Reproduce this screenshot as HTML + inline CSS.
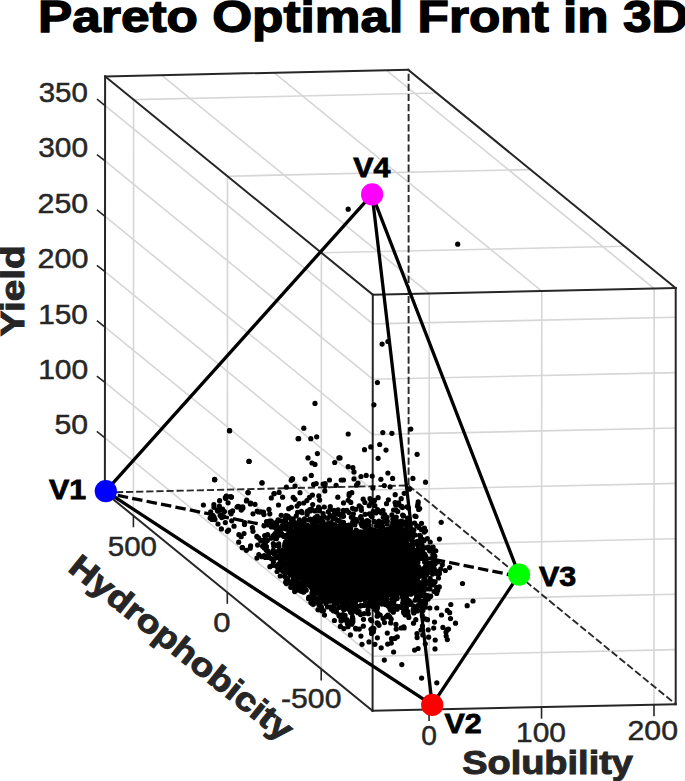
<!DOCTYPE html>
<html><head><meta charset="utf-8"><style>
html,body{margin:0;padding:0;background:#fff;}
body{width:685px;height:781px;overflow:hidden;}
svg{display:block;font-family:"Liberation Sans",sans-serif;}
</style></head><body>
<svg width="685" height="781" viewBox="0 0 685 781">
<rect width="685" height="781" fill="#fff"/>
<line x1="133.41" y1="515.75" x2="133.61" y2="99.65" stroke="#d6d6d6" stroke-width="1.6" />
<line x1="227.30" y1="592.32" x2="227.50" y2="176.22" stroke="#d6d6d6" stroke-width="1.6" />
<line x1="321.20" y1="668.89" x2="321.40" y2="252.79" stroke="#d6d6d6" stroke-width="1.6" />
<line x1="372.63" y1="656.18" x2="104.93" y2="437.88" stroke="#d6d6d6" stroke-width="1.6" />
<line x1="372.65" y1="600.79" x2="104.95" y2="382.49" stroke="#d6d6d6" stroke-width="1.6" />
<line x1="372.68" y1="545.40" x2="104.98" y2="327.10" stroke="#d6d6d6" stroke-width="1.6" />
<line x1="372.71" y1="490.01" x2="105.01" y2="271.71" stroke="#d6d6d6" stroke-width="1.6" />
<line x1="372.73" y1="434.62" x2="105.03" y2="216.32" stroke="#d6d6d6" stroke-width="1.6" />
<line x1="372.76" y1="379.23" x2="105.06" y2="160.93" stroke="#d6d6d6" stroke-width="1.6" />
<line x1="372.79" y1="323.84" x2="105.09" y2="105.54" stroke="#d6d6d6" stroke-width="1.6" />
<line x1="429.06" y1="709.57" x2="429.26" y2="293.47" stroke="#d6d6d6" stroke-width="1.6" />
<line x1="541.53" y1="707.12" x2="541.73" y2="291.02" stroke="#d6d6d6" stroke-width="1.6" />
<line x1="653.99" y1="704.67" x2="654.19" y2="288.57" stroke="#d6d6d6" stroke-width="1.6" />
<line x1="372.63" y1="656.18" x2="675.73" y2="649.58" stroke="#d6d6d6" stroke-width="1.6" />
<line x1="372.65" y1="600.79" x2="675.75" y2="594.19" stroke="#d6d6d6" stroke-width="1.6" />
<line x1="372.68" y1="545.40" x2="675.78" y2="538.80" stroke="#d6d6d6" stroke-width="1.6" />
<line x1="372.71" y1="490.01" x2="675.81" y2="483.41" stroke="#d6d6d6" stroke-width="1.6" />
<line x1="372.73" y1="434.62" x2="675.83" y2="428.02" stroke="#d6d6d6" stroke-width="1.6" />
<line x1="372.76" y1="379.23" x2="675.86" y2="372.63" stroke="#d6d6d6" stroke-width="1.6" />
<line x1="372.79" y1="323.84" x2="675.89" y2="317.24" stroke="#d6d6d6" stroke-width="1.6" />
<line x1="429.26" y1="293.47" x2="161.56" y2="75.17" stroke="#d6d6d6" stroke-width="1.6" />
<line x1="541.73" y1="291.02" x2="274.03" y2="72.72" stroke="#d6d6d6" stroke-width="1.6" />
<line x1="654.19" y1="288.57" x2="386.49" y2="70.27" stroke="#d6d6d6" stroke-width="1.6" />
<line x1="133.61" y1="99.65" x2="436.71" y2="93.05" stroke="#d6d6d6" stroke-width="1.6" />
<line x1="227.50" y1="176.22" x2="530.60" y2="169.62" stroke="#d6d6d6" stroke-width="1.6" />
<line x1="321.40" y1="252.79" x2="624.50" y2="246.19" stroke="#d6d6d6" stroke-width="1.6" />
<line x1="105.10" y1="76.40" x2="408.20" y2="69.80" stroke="#262626" stroke-width="2" stroke-linecap="square"/>
<line x1="408.20" y1="69.80" x2="675.70" y2="288.10" stroke="#262626" stroke-width="2" stroke-linecap="square"/>
<line x1="675.70" y1="288.10" x2="372.80" y2="294.70" stroke="#262626" stroke-width="2" stroke-linecap="square"/>
<line x1="372.80" y1="294.70" x2="105.10" y2="76.40" stroke="#262626" stroke-width="2" stroke-linecap="square"/>
<line x1="105.10" y1="76.40" x2="104.90" y2="492.50" stroke="#262626" stroke-width="2" stroke-linecap="square"/>
<line x1="372.80" y1="294.70" x2="372.60" y2="710.80" stroke="#262626" stroke-width="2" stroke-linecap="square"/>
<line x1="675.70" y1="288.10" x2="675.70" y2="704.20" stroke="#262626" stroke-width="2" stroke-linecap="square"/>
<line x1="372.60" y1="710.80" x2="675.70" y2="704.20" stroke="#262626" stroke-width="2" stroke-linecap="square"/>
<line x1="104.90" y1="492.50" x2="372.60" y2="710.80" stroke="#262626" stroke-width="2" stroke-linecap="square"/>
<line x1="408.60" y1="69.80" x2="408.60" y2="485.40" stroke="#2a2a2a" stroke-width="1.9" stroke-dasharray="7.2 2.9" stroke-dashoffset="6.2"/>
<line x1="408.50" y1="485.40" x2="104.90" y2="492.50" stroke="#2a2a2a" stroke-width="1.9" stroke-dasharray="7.2 2.9" stroke-dashoffset="7.5"/>
<line x1="408.50" y1="485.40" x2="675.70" y2="704.20" stroke="#2a2a2a" stroke-width="1.9" stroke-dasharray="7.2 2.9" stroke-dashoffset="0"/>
<line x1="104.93" y1="437.88" x2="96.83" y2="431.48" stroke="#262626" stroke-width="1.6" />
<line x1="104.95" y1="382.49" x2="96.85" y2="376.09" stroke="#262626" stroke-width="1.6" />
<line x1="104.98" y1="327.10" x2="96.88" y2="320.70" stroke="#262626" stroke-width="1.6" />
<line x1="105.01" y1="271.71" x2="96.91" y2="265.31" stroke="#262626" stroke-width="1.6" />
<line x1="105.03" y1="216.32" x2="96.93" y2="209.92" stroke="#262626" stroke-width="1.6" />
<line x1="105.06" y1="160.93" x2="96.96" y2="154.53" stroke="#262626" stroke-width="1.6" />
<line x1="105.09" y1="105.54" x2="96.99" y2="99.14" stroke="#262626" stroke-width="1.6" />
<line x1="133.41" y1="515.75" x2="133.41" y2="527.25" stroke="#262626" stroke-width="1.6" />
<line x1="227.30" y1="592.32" x2="227.30" y2="603.82" stroke="#262626" stroke-width="1.6" />
<line x1="321.20" y1="668.89" x2="321.20" y2="680.39" stroke="#262626" stroke-width="1.6" />
<line x1="429.06" y1="709.57" x2="429.06" y2="721.07" stroke="#262626" stroke-width="1.6" />
<line x1="541.53" y1="707.12" x2="541.53" y2="718.62" stroke="#262626" stroke-width="1.6" />
<line x1="653.99" y1="704.67" x2="653.99" y2="716.17" stroke="#262626" stroke-width="1.6" />
<g fill="#000">
<path d="M292.4,532.5 L311.7,526.7 L337.1,527.1 L357.8,534.8 L377.9,532.2 L396.6,532.6 L406.5,542.4 L414.0,557.6 L418.0,570.3 L416.3,582.1 L409.7,591.1 L396.6,593.8 L378.0,595.8 L357.8,597.0 L342.5,600.5 L324.3,596.8 L303.7,581.2 L290.0,565.8 L289.4,542.2 Z" stroke="#000" stroke-width="5" stroke-linejoin="round"/>
<circle cx="271.2" cy="558.5" r="2.6"/>
<circle cx="377.0" cy="597.0" r="2.6"/>
<circle cx="334.6" cy="513.5" r="2.6"/>
<circle cx="276.1" cy="522.5" r="2.6"/>
<circle cx="370.0" cy="498.7" r="2.6"/>
<circle cx="260.8" cy="540.9" r="2.6"/>
<circle cx="419.2" cy="576.0" r="2.6"/>
<circle cx="435.0" cy="564.0" r="2.6"/>
<circle cx="382.7" cy="526.6" r="2.6"/>
<circle cx="349.2" cy="599.1" r="2.6"/>
<circle cx="286.5" cy="562.5" r="2.6"/>
<circle cx="297.3" cy="526.3" r="2.6"/>
<circle cx="314.8" cy="520.9" r="2.6"/>
<circle cx="373.9" cy="602.0" r="2.6"/>
<circle cx="434.1" cy="591.5" r="2.6"/>
<circle cx="425.5" cy="602.9" r="2.6"/>
<circle cx="352.5" cy="508.3" r="2.6"/>
<circle cx="409.4" cy="519.5" r="2.6"/>
<circle cx="300.1" cy="523.7" r="2.6"/>
<circle cx="330.2" cy="515.6" r="2.6"/>
<circle cx="353.9" cy="599.8" r="2.6"/>
<circle cx="354.9" cy="524.8" r="2.6"/>
<circle cx="399.7" cy="527.9" r="2.6"/>
<circle cx="407.9" cy="526.2" r="2.6"/>
<circle cx="370.1" cy="602.2" r="2.6"/>
<circle cx="416.9" cy="553.5" r="2.6"/>
<circle cx="281.4" cy="533.7" r="2.6"/>
<circle cx="395.7" cy="530.6" r="2.6"/>
<circle cx="276.5" cy="538.6" r="2.6"/>
<circle cx="411.1" cy="545.0" r="2.6"/>
<circle cx="391.9" cy="525.8" r="2.6"/>
<circle cx="418.5" cy="583.9" r="2.6"/>
<circle cx="289.7" cy="531.0" r="2.6"/>
<circle cx="272.3" cy="552.4" r="2.6"/>
<circle cx="281.2" cy="560.7" r="2.6"/>
<circle cx="287.7" cy="572.0" r="2.6"/>
<circle cx="390.4" cy="603.7" r="2.6"/>
<circle cx="382.1" cy="522.2" r="2.6"/>
<circle cx="267.3" cy="540.5" r="2.6"/>
<circle cx="380.2" cy="597.4" r="2.6"/>
<circle cx="371.8" cy="500.8" r="2.6"/>
<circle cx="378.5" cy="530.7" r="2.6"/>
<circle cx="283.2" cy="571.4" r="2.6"/>
<circle cx="347.4" cy="623.4" r="2.6"/>
<circle cx="421.8" cy="588.5" r="2.6"/>
<circle cx="424.0" cy="558.1" r="2.6"/>
<circle cx="393.9" cy="607.5" r="2.6"/>
<circle cx="291.1" cy="527.2" r="2.6"/>
<circle cx="372.1" cy="530.1" r="2.6"/>
<circle cx="293.3" cy="581.8" r="2.6"/>
<circle cx="258.6" cy="537.9" r="2.6"/>
<circle cx="421.9" cy="595.0" r="2.6"/>
<circle cx="414.0" cy="612.2" r="2.6"/>
<circle cx="372.3" cy="532.5" r="2.6"/>
<circle cx="319.6" cy="521.3" r="2.6"/>
<circle cx="341.6" cy="516.2" r="2.6"/>
<circle cx="406.4" cy="597.3" r="2.6"/>
<circle cx="304.9" cy="528.6" r="2.6"/>
<circle cx="341.2" cy="619.9" r="2.6"/>
<circle cx="314.2" cy="599.5" r="2.6"/>
<circle cx="288.0" cy="548.4" r="2.6"/>
<circle cx="316.5" cy="593.3" r="2.6"/>
<circle cx="290.7" cy="524.3" r="2.6"/>
<circle cx="421.3" cy="571.0" r="2.6"/>
<circle cx="373.9" cy="628.7" r="2.6"/>
<circle cx="417.6" cy="552.9" r="2.6"/>
<circle cx="367.1" cy="520.5" r="2.6"/>
<circle cx="292.3" cy="573.9" r="2.6"/>
<circle cx="307.1" cy="585.0" r="2.6"/>
<circle cx="371.0" cy="502.8" r="2.6"/>
<circle cx="343.4" cy="510.4" r="2.6"/>
<circle cx="346.8" cy="619.6" r="2.6"/>
<circle cx="367.2" cy="605.4" r="2.6"/>
<circle cx="401.1" cy="521.1" r="2.6"/>
<circle cx="413.5" cy="606.1" r="2.6"/>
<circle cx="284.7" cy="546.0" r="2.6"/>
<circle cx="318.6" cy="507.2" r="2.6"/>
<circle cx="388.6" cy="615.6" r="2.6"/>
<circle cx="276.8" cy="556.3" r="2.6"/>
<circle cx="266.3" cy="550.3" r="2.6"/>
<circle cx="311.9" cy="595.9" r="2.6"/>
<circle cx="419.0" cy="567.7" r="2.6"/>
<circle cx="320.8" cy="601.7" r="2.6"/>
<circle cx="345.1" cy="615.4" r="2.6"/>
<circle cx="286.6" cy="581.4" r="2.6"/>
<circle cx="418.6" cy="599.5" r="2.6"/>
<circle cx="323.2" cy="523.3" r="2.6"/>
<circle cx="352.9" cy="621.7" r="2.6"/>
<circle cx="371.5" cy="603.9" r="2.6"/>
<circle cx="413.3" cy="589.6" r="2.6"/>
<circle cx="420.4" cy="536.0" r="2.6"/>
<circle cx="415.8" cy="551.2" r="2.6"/>
<circle cx="356.9" cy="533.1" r="2.6"/>
<circle cx="310.7" cy="509.9" r="2.6"/>
<circle cx="282.0" cy="534.7" r="2.6"/>
<circle cx="297.9" cy="590.2" r="2.6"/>
<circle cx="329.5" cy="598.2" r="2.6"/>
<circle cx="382.9" cy="600.2" r="2.6"/>
<circle cx="421.5" cy="523.3" r="2.6"/>
<circle cx="290.8" cy="535.7" r="2.6"/>
<circle cx="273.0" cy="535.9" r="2.6"/>
<circle cx="403.0" cy="592.7" r="2.6"/>
<circle cx="321.8" cy="600.7" r="2.6"/>
<circle cx="414.8" cy="585.1" r="2.6"/>
<circle cx="369.1" cy="525.0" r="2.6"/>
<circle cx="374.2" cy="598.9" r="2.6"/>
<circle cx="340.4" cy="626.4" r="2.6"/>
<circle cx="432.8" cy="562.7" r="2.6"/>
<circle cx="371.0" cy="606.1" r="2.6"/>
<circle cx="320.5" cy="596.8" r="2.6"/>
<circle cx="432.7" cy="563.8" r="2.6"/>
<circle cx="388.0" cy="529.4" r="2.6"/>
<circle cx="425.7" cy="599.8" r="2.6"/>
<circle cx="435.1" cy="581.8" r="2.6"/>
<circle cx="364.7" cy="599.4" r="2.6"/>
<circle cx="294.2" cy="522.8" r="2.6"/>
<circle cx="412.3" cy="542.5" r="2.6"/>
<circle cx="339.4" cy="615.7" r="2.6"/>
<circle cx="283.2" cy="550.9" r="2.6"/>
<circle cx="353.6" cy="605.7" r="2.6"/>
<circle cx="409.7" cy="546.5" r="2.6"/>
<circle cx="370.1" cy="599.8" r="2.6"/>
<circle cx="427.4" cy="581.8" r="2.6"/>
<circle cx="292.9" cy="532.3" r="2.6"/>
<circle cx="371.6" cy="620.7" r="2.6"/>
<circle cx="415.4" cy="592.2" r="2.6"/>
<circle cx="334.4" cy="620.5" r="2.6"/>
<circle cx="437.7" cy="590.4" r="2.6"/>
<circle cx="303.8" cy="592.1" r="2.6"/>
<circle cx="416.5" cy="558.1" r="2.6"/>
<circle cx="363.2" cy="533.2" r="2.6"/>
<circle cx="427.3" cy="538.6" r="2.6"/>
<circle cx="353.5" cy="601.6" r="2.6"/>
<circle cx="335.4" cy="518.9" r="2.6"/>
<circle cx="394.0" cy="600.8" r="2.6"/>
<circle cx="360.8" cy="516.5" r="2.6"/>
<circle cx="281.2" cy="515.3" r="2.6"/>
<circle cx="292.7" cy="569.0" r="2.6"/>
<circle cx="425.4" cy="607.2" r="2.6"/>
<circle cx="372.6" cy="628.0" r="2.6"/>
<circle cx="432.6" cy="584.8" r="2.6"/>
<circle cx="265.4" cy="557.4" r="2.6"/>
<circle cx="387.0" cy="517.3" r="2.6"/>
<circle cx="269.3" cy="521.0" r="2.6"/>
<circle cx="298.7" cy="526.1" r="2.6"/>
<circle cx="309.9" cy="509.6" r="2.6"/>
<circle cx="284.7" cy="570.0" r="2.6"/>
<circle cx="385.9" cy="517.5" r="2.6"/>
<circle cx="341.6" cy="528.3" r="2.6"/>
<circle cx="417.2" cy="559.0" r="2.6"/>
<circle cx="285.9" cy="515.5" r="2.6"/>
<circle cx="383.3" cy="517.3" r="2.6"/>
<circle cx="289.3" cy="536.9" r="2.6"/>
<circle cx="294.5" cy="585.0" r="2.6"/>
<circle cx="436.0" cy="561.9" r="2.6"/>
<circle cx="299.1" cy="524.1" r="2.6"/>
<circle cx="303.7" cy="523.9" r="2.6"/>
<circle cx="288.9" cy="567.9" r="2.6"/>
<circle cx="418.6" cy="551.6" r="2.6"/>
<circle cx="436.7" cy="593.4" r="2.6"/>
<circle cx="388.2" cy="531.0" r="2.6"/>
<circle cx="277.8" cy="532.6" r="2.6"/>
<circle cx="348.7" cy="604.2" r="2.6"/>
<circle cx="422.1" cy="548.9" r="2.6"/>
<circle cx="343.5" cy="516.3" r="2.6"/>
<circle cx="324.3" cy="600.3" r="2.6"/>
<circle cx="294.5" cy="580.6" r="2.6"/>
<circle cx="324.3" cy="507.0" r="2.6"/>
<circle cx="395.7" cy="504.9" r="2.6"/>
<circle cx="365.7" cy="602.9" r="2.6"/>
<circle cx="306.2" cy="590.2" r="2.6"/>
<circle cx="274.7" cy="527.3" r="2.6"/>
<circle cx="425.3" cy="571.5" r="2.6"/>
<circle cx="367.1" cy="524.9" r="2.6"/>
<circle cx="407.3" cy="532.5" r="2.6"/>
<circle cx="387.3" cy="521.0" r="2.6"/>
<circle cx="409.3" cy="539.2" r="2.6"/>
<circle cx="279.2" cy="529.7" r="2.6"/>
<circle cx="434.9" cy="560.7" r="2.6"/>
<circle cx="290.5" cy="575.1" r="2.6"/>
<circle cx="356.4" cy="533.5" r="2.6"/>
<circle cx="303.8" cy="521.7" r="2.6"/>
<circle cx="386.9" cy="529.5" r="2.6"/>
<circle cx="399.2" cy="530.1" r="2.6"/>
<circle cx="344.9" cy="619.9" r="2.6"/>
<circle cx="384.1" cy="602.8" r="2.6"/>
<circle cx="351.5" cy="525.0" r="2.6"/>
<circle cx="281.3" cy="533.5" r="2.6"/>
<circle cx="397.1" cy="606.4" r="2.6"/>
<circle cx="431.7" cy="581.4" r="2.6"/>
<circle cx="412.1" cy="531.5" r="2.6"/>
<circle cx="410.2" cy="593.9" r="2.6"/>
<circle cx="410.4" cy="523.5" r="2.6"/>
<circle cx="415.3" cy="600.2" r="2.6"/>
<circle cx="298.1" cy="582.6" r="2.6"/>
<circle cx="364.9" cy="531.6" r="2.6"/>
<circle cx="348.8" cy="525.2" r="2.6"/>
<circle cx="386.5" cy="596.0" r="2.6"/>
<circle cx="355.4" cy="598.5" r="2.6"/>
<circle cx="288.6" cy="542.1" r="2.6"/>
<circle cx="361.8" cy="519.8" r="2.6"/>
<circle cx="429.7" cy="584.5" r="2.6"/>
<circle cx="359.2" cy="505.9" r="2.6"/>
<circle cx="278.0" cy="567.6" r="2.6"/>
<circle cx="423.3" cy="572.5" r="2.6"/>
<circle cx="295.9" cy="528.3" r="2.6"/>
<circle cx="315.3" cy="524.1" r="2.6"/>
<circle cx="311.6" cy="509.0" r="2.6"/>
<circle cx="418.6" cy="553.4" r="2.6"/>
<circle cx="356.6" cy="532.3" r="2.6"/>
<circle cx="428.9" cy="571.7" r="2.6"/>
<circle cx="313.2" cy="598.4" r="2.6"/>
<circle cx="339.3" cy="615.9" r="2.6"/>
<circle cx="284.8" cy="545.9" r="2.6"/>
<circle cx="437.4" cy="574.1" r="2.6"/>
<circle cx="355.6" cy="628.3" r="2.6"/>
<circle cx="396.5" cy="598.6" r="2.6"/>
<circle cx="347.3" cy="621.7" r="2.6"/>
<circle cx="374.3" cy="598.4" r="2.6"/>
<circle cx="395.1" cy="502.6" r="2.6"/>
<circle cx="314.9" cy="510.9" r="2.6"/>
<circle cx="391.2" cy="619.0" r="2.6"/>
<circle cx="322.4" cy="611.0" r="2.6"/>
<circle cx="368.6" cy="521.4" r="2.6"/>
<circle cx="284.4" cy="569.7" r="2.6"/>
<circle cx="394.1" cy="605.2" r="2.6"/>
<circle cx="343.5" cy="522.4" r="2.6"/>
<circle cx="421.0" cy="592.4" r="2.6"/>
<circle cx="276.3" cy="527.1" r="2.6"/>
<circle cx="289.4" cy="517.8" r="2.6"/>
<circle cx="348.1" cy="603.9" r="2.6"/>
<circle cx="410.6" cy="604.5" r="2.6"/>
<circle cx="271.5" cy="525.2" r="2.6"/>
<circle cx="288.7" cy="541.9" r="2.6"/>
<circle cx="281.2" cy="569.9" r="2.6"/>
<circle cx="386.1" cy="531.3" r="2.6"/>
<circle cx="372.9" cy="603.5" r="2.6"/>
<circle cx="412.1" cy="548.1" r="2.6"/>
<circle cx="422.5" cy="551.6" r="2.6"/>
<circle cx="344.9" cy="605.5" r="2.6"/>
<circle cx="296.3" cy="526.7" r="2.6"/>
<circle cx="404.4" cy="609.9" r="2.6"/>
<circle cx="355.0" cy="602.1" r="2.6"/>
<circle cx="380.6" cy="511.7" r="2.6"/>
<circle cx="411.4" cy="531.1" r="2.6"/>
<circle cx="347.9" cy="530.7" r="2.6"/>
<circle cx="350.8" cy="502.4" r="2.6"/>
<circle cx="433.6" cy="581.9" r="2.6"/>
<circle cx="375.9" cy="512.9" r="2.6"/>
<circle cx="264.1" cy="555.5" r="2.6"/>
<circle cx="315.2" cy="517.7" r="2.6"/>
<circle cx="342.9" cy="614.7" r="2.6"/>
<circle cx="271.5" cy="527.0" r="2.6"/>
<circle cx="381.8" cy="604.1" r="2.6"/>
<circle cx="271.0" cy="538.2" r="2.6"/>
<circle cx="280.6" cy="520.8" r="2.6"/>
<circle cx="349.0" cy="622.4" r="2.6"/>
<circle cx="373.8" cy="607.1" r="2.6"/>
<circle cx="308.8" cy="519.9" r="2.6"/>
<circle cx="295.6" cy="588.2" r="2.6"/>
<circle cx="375.5" cy="603.0" r="2.6"/>
<circle cx="416.8" cy="561.9" r="2.6"/>
<circle cx="426.0" cy="559.7" r="2.6"/>
<circle cx="409.3" cy="601.1" r="2.6"/>
<circle cx="275.0" cy="533.7" r="2.6"/>
<circle cx="280.5" cy="534.9" r="2.6"/>
<circle cx="399.6" cy="534.1" r="2.6"/>
<circle cx="394.3" cy="528.6" r="2.6"/>
<circle cx="428.1" cy="564.1" r="2.6"/>
<circle cx="320.5" cy="602.8" r="2.6"/>
<circle cx="377.2" cy="616.2" r="2.6"/>
<circle cx="401.6" cy="607.4" r="2.6"/>
<circle cx="365.5" cy="528.5" r="2.6"/>
<circle cx="363.7" cy="605.4" r="2.6"/>
<circle cx="283.7" cy="521.3" r="2.6"/>
<circle cx="353.8" cy="603.0" r="2.6"/>
<circle cx="286.0" cy="578.1" r="2.6"/>
<circle cx="278.9" cy="546.4" r="2.6"/>
<circle cx="408.5" cy="508.0" r="2.6"/>
<circle cx="282.9" cy="525.3" r="2.6"/>
<circle cx="406.4" cy="607.8" r="2.6"/>
<circle cx="421.5" cy="557.8" r="2.6"/>
<circle cx="361.2" cy="507.7" r="2.6"/>
<circle cx="273.4" cy="561.7" r="2.6"/>
<circle cx="354.0" cy="605.0" r="2.6"/>
<circle cx="282.5" cy="550.1" r="2.6"/>
<circle cx="414.2" cy="608.8" r="2.6"/>
<circle cx="291.8" cy="532.1" r="2.6"/>
<circle cx="394.3" cy="528.4" r="2.6"/>
<circle cx="394.4" cy="524.8" r="2.6"/>
<circle cx="356.8" cy="521.3" r="2.6"/>
<circle cx="314.5" cy="591.2" r="2.6"/>
<circle cx="401.5" cy="525.2" r="2.6"/>
<circle cx="403.2" cy="529.9" r="2.6"/>
<circle cx="396.8" cy="521.4" r="2.6"/>
<circle cx="284.9" cy="543.8" r="2.6"/>
<circle cx="376.0" cy="607.1" r="2.6"/>
<circle cx="338.3" cy="514.3" r="2.6"/>
<circle cx="330.3" cy="506.6" r="2.6"/>
<circle cx="432.0" cy="567.7" r="2.6"/>
<circle cx="433.5" cy="563.5" r="2.6"/>
<circle cx="288.0" cy="559.9" r="2.6"/>
<circle cx="330.0" cy="509.7" r="2.6"/>
<circle cx="287.8" cy="556.8" r="2.6"/>
<circle cx="268.2" cy="523.7" r="2.6"/>
<circle cx="433.1" cy="547.1" r="2.6"/>
<circle cx="418.4" cy="548.8" r="2.6"/>
<circle cx="424.0" cy="569.8" r="2.6"/>
<circle cx="381.9" cy="525.8" r="2.6"/>
<circle cx="377.8" cy="601.9" r="2.6"/>
<circle cx="401.1" cy="522.6" r="2.6"/>
<circle cx="376.0" cy="597.4" r="2.6"/>
<circle cx="285.6" cy="520.1" r="2.6"/>
<circle cx="433.2" cy="570.8" r="2.6"/>
<circle cx="276.0" cy="557.4" r="2.6"/>
<circle cx="397.1" cy="532.1" r="2.6"/>
<circle cx="338.2" cy="526.2" r="2.6"/>
<circle cx="404.8" cy="600.8" r="2.6"/>
<circle cx="355.8" cy="509.3" r="2.6"/>
<circle cx="289.4" cy="526.2" r="2.6"/>
<circle cx="303.8" cy="582.8" r="2.6"/>
<circle cx="364.9" cy="502.5" r="2.6"/>
<circle cx="419.8" cy="554.6" r="2.6"/>
<circle cx="314.4" cy="590.3" r="2.6"/>
<circle cx="399.0" cy="504.9" r="2.6"/>
<circle cx="291.8" cy="583.6" r="2.6"/>
<circle cx="386.0" cy="597.8" r="2.6"/>
<circle cx="370.5" cy="529.0" r="2.6"/>
<circle cx="393.9" cy="597.9" r="2.6"/>
<circle cx="257.6" cy="545.1" r="2.6"/>
<circle cx="349.0" cy="606.6" r="2.6"/>
<circle cx="406.7" cy="537.4" r="2.6"/>
<circle cx="415.2" cy="535.0" r="2.6"/>
<circle cx="407.9" cy="527.2" r="2.6"/>
<circle cx="421.9" cy="595.8" r="2.6"/>
<circle cx="291.9" cy="581.8" r="2.6"/>
<circle cx="413.8" cy="613.0" r="2.6"/>
<circle cx="418.4" cy="566.7" r="2.6"/>
<circle cx="403.3" cy="521.8" r="2.6"/>
<circle cx="280.7" cy="554.7" r="2.6"/>
<circle cx="419.2" cy="570.3" r="2.6"/>
<circle cx="360.4" cy="606.1" r="2.6"/>
<circle cx="420.5" cy="583.2" r="2.6"/>
<circle cx="436.5" cy="587.4" r="2.6"/>
<circle cx="408.2" cy="600.4" r="2.6"/>
<circle cx="363.4" cy="526.3" r="2.6"/>
<circle cx="288.6" cy="525.8" r="2.6"/>
<circle cx="433.5" cy="552.0" r="2.6"/>
<circle cx="397.1" cy="524.3" r="2.6"/>
<circle cx="302.2" cy="512.7" r="2.6"/>
<circle cx="277.6" cy="557.2" r="2.6"/>
<circle cx="433.7" cy="556.0" r="2.6"/>
<circle cx="361.4" cy="510.3" r="2.6"/>
<circle cx="414.1" cy="592.0" r="2.6"/>
<circle cx="390.7" cy="622.9" r="2.6"/>
<circle cx="424.0" cy="602.1" r="2.6"/>
<circle cx="364.9" cy="600.0" r="2.6"/>
<circle cx="350.5" cy="528.6" r="2.6"/>
<circle cx="270.1" cy="521.9" r="2.6"/>
<circle cx="352.9" cy="619.1" r="2.6"/>
<circle cx="429.6" cy="550.8" r="2.6"/>
<circle cx="369.2" cy="505.7" r="2.6"/>
<circle cx="320.1" cy="525.5" r="2.6"/>
<circle cx="384.7" cy="514.5" r="2.6"/>
<circle cx="330.1" cy="600.7" r="2.6"/>
<circle cx="427.5" cy="568.5" r="2.6"/>
<circle cx="395.3" cy="526.7" r="2.6"/>
<circle cx="430.7" cy="596.0" r="2.6"/>
<circle cx="426.0" cy="572.1" r="2.6"/>
<circle cx="333.5" cy="610.9" r="2.6"/>
<circle cx="434.8" cy="556.2" r="2.6"/>
<circle cx="407.0" cy="506.8" r="2.6"/>
<circle cx="337.1" cy="600.0" r="2.6"/>
<circle cx="349.3" cy="609.7" r="2.6"/>
<circle cx="392.7" cy="522.5" r="2.6"/>
<circle cx="323.1" cy="513.5" r="2.6"/>
<circle cx="416.8" cy="583.8" r="2.6"/>
<circle cx="308.8" cy="597.1" r="2.6"/>
<circle cx="377.4" cy="606.9" r="2.6"/>
<circle cx="256.8" cy="536.4" r="2.6"/>
<circle cx="426.5" cy="588.9" r="2.6"/>
<circle cx="321.7" cy="517.8" r="2.6"/>
<circle cx="308.7" cy="527.3" r="2.6"/>
<circle cx="285.6" cy="546.1" r="2.6"/>
<circle cx="328.3" cy="511.8" r="2.6"/>
<circle cx="341.6" cy="603.2" r="2.6"/>
<circle cx="386.6" cy="602.1" r="2.6"/>
<circle cx="311.3" cy="587.4" r="2.6"/>
<circle cx="417.3" cy="579.1" r="2.6"/>
<circle cx="418.8" cy="590.4" r="2.6"/>
<circle cx="434.3" cy="569.2" r="2.6"/>
<circle cx="285.6" cy="528.8" r="2.6"/>
<circle cx="384.3" cy="599.3" r="2.6"/>
<circle cx="385.3" cy="604.6" r="2.6"/>
<circle cx="313.7" cy="595.7" r="2.6"/>
<circle cx="287.0" cy="537.2" r="2.6"/>
<circle cx="403.1" cy="593.2" r="2.6"/>
<circle cx="417.9" cy="551.5" r="2.6"/>
<circle cx="422.6" cy="549.8" r="2.6"/>
<circle cx="362.0" cy="525.7" r="2.6"/>
<circle cx="289.9" cy="572.2" r="2.6"/>
<circle cx="319.4" cy="602.0" r="2.6"/>
<circle cx="333.7" cy="606.5" r="2.6"/>
<circle cx="293.0" cy="580.2" r="2.6"/>
<circle cx="406.2" cy="592.5" r="2.6"/>
<circle cx="290.8" cy="587.3" r="2.6"/>
<circle cx="313.2" cy="519.4" r="2.6"/>
<circle cx="312.4" cy="603.7" r="2.6"/>
<circle cx="296.6" cy="579.0" r="2.6"/>
<circle cx="284.6" cy="551.2" r="2.6"/>
<circle cx="378.0" cy="623.4" r="2.6"/>
<circle cx="319.5" cy="510.8" r="2.6"/>
<circle cx="343.3" cy="607.2" r="2.6"/>
<circle cx="302.8" cy="591.8" r="2.6"/>
<circle cx="340.3" cy="525.1" r="2.6"/>
<circle cx="266.0" cy="556.3" r="2.6"/>
<circle cx="271.0" cy="521.1" r="2.6"/>
<circle cx="325.5" cy="525.3" r="2.6"/>
<circle cx="278.3" cy="551.2" r="2.6"/>
<circle cx="360.1" cy="531.9" r="2.6"/>
<circle cx="341.6" cy="522.0" r="2.6"/>
<circle cx="324.5" cy="615.0" r="2.6"/>
<circle cx="372.8" cy="603.4" r="2.6"/>
<circle cx="356.4" cy="519.7" r="2.6"/>
<circle cx="302.0" cy="527.4" r="2.6"/>
<circle cx="416.6" cy="542.5" r="2.6"/>
<circle cx="352.7" cy="603.8" r="2.6"/>
<circle cx="350.7" cy="527.2" r="2.6"/>
<circle cx="357.5" cy="599.1" r="2.6"/>
<circle cx="430.2" cy="542.0" r="2.6"/>
<circle cx="367.0" cy="603.3" r="2.6"/>
<circle cx="380.2" cy="615.0" r="2.6"/>
<circle cx="331.4" cy="601.0" r="2.6"/>
<circle cx="288.7" cy="532.7" r="2.6"/>
<circle cx="293.6" cy="576.9" r="2.6"/>
<circle cx="420.1" cy="583.1" r="2.6"/>
<circle cx="356.0" cy="628.9" r="2.6"/>
<circle cx="384.5" cy="622.6" r="2.6"/>
<circle cx="404.1" cy="523.3" r="2.6"/>
<circle cx="310.9" cy="602.5" r="2.6"/>
<circle cx="341.1" cy="621.1" r="2.6"/>
<circle cx="412.4" cy="545.6" r="2.6"/>
<circle cx="307.6" cy="511.8" r="2.6"/>
<circle cx="302.2" cy="588.1" r="2.6"/>
<circle cx="406.1" cy="522.1" r="2.6"/>
<circle cx="417.8" cy="605.6" r="2.6"/>
<circle cx="397.1" cy="598.2" r="2.6"/>
<circle cx="296.5" cy="525.2" r="2.6"/>
<circle cx="397.1" cy="532.9" r="2.6"/>
<circle cx="335.7" cy="604.1" r="2.6"/>
<circle cx="386.4" cy="599.8" r="2.6"/>
<circle cx="300.1" cy="529.5" r="2.6"/>
<circle cx="283.9" cy="535.5" r="2.6"/>
<circle cx="417.1" cy="579.4" r="2.6"/>
<circle cx="416.8" cy="525.9" r="2.6"/>
<circle cx="285.4" cy="542.5" r="2.6"/>
<circle cx="327.3" cy="525.0" r="2.6"/>
<circle cx="440.8" cy="568.8" r="2.6"/>
<circle cx="374.1" cy="521.4" r="2.6"/>
<circle cx="287.8" cy="516.0" r="2.6"/>
<circle cx="301.2" cy="591.2" r="2.6"/>
<circle cx="319.6" cy="597.8" r="2.6"/>
<circle cx="376.5" cy="597.0" r="2.6"/>
<circle cx="280.5" cy="533.5" r="2.6"/>
<circle cx="424.4" cy="528.1" r="2.6"/>
<circle cx="263.9" cy="541.4" r="2.6"/>
<circle cx="411.0" cy="539.1" r="2.6"/>
<circle cx="351.9" cy="621.8" r="2.6"/>
<circle cx="336.7" cy="603.7" r="2.6"/>
<circle cx="416.1" cy="584.8" r="2.6"/>
<circle cx="407.0" cy="528.5" r="2.6"/>
<circle cx="424.0" cy="583.1" r="2.6"/>
<circle cx="412.4" cy="592.4" r="2.6"/>
<circle cx="289.0" cy="554.4" r="2.6"/>
<circle cx="395.5" cy="532.2" r="2.6"/>
<circle cx="315.2" cy="523.5" r="2.6"/>
<circle cx="423.0" cy="607.1" r="2.6"/>
<circle cx="417.0" cy="610.1" r="2.6"/>
<circle cx="334.1" cy="510.3" r="2.6"/>
<circle cx="424.6" cy="562.1" r="2.6"/>
<circle cx="283.8" cy="536.5" r="2.6"/>
<circle cx="291.0" cy="530.8" r="2.6"/>
<circle cx="297.8" cy="528.1" r="2.6"/>
<circle cx="289.6" cy="561.9" r="2.6"/>
<circle cx="423.3" cy="555.6" r="2.6"/>
<circle cx="414.5" cy="586.5" r="2.6"/>
<circle cx="380.7" cy="601.2" r="2.6"/>
<circle cx="273.8" cy="546.3" r="2.6"/>
<circle cx="264.1" cy="525.8" r="2.6"/>
<circle cx="334.4" cy="603.7" r="2.6"/>
<circle cx="416.6" cy="596.4" r="2.6"/>
<circle cx="421.4" cy="602.1" r="2.6"/>
<circle cx="424.7" cy="594.6" r="2.6"/>
<circle cx="420.7" cy="585.9" r="2.6"/>
<circle cx="355.4" cy="602.7" r="2.6"/>
<circle cx="423.9" cy="590.0" r="2.6"/>
<circle cx="389.0" cy="605.6" r="2.6"/>
<circle cx="265.4" cy="538.4" r="2.6"/>
<circle cx="285.4" cy="521.1" r="2.6"/>
<circle cx="362.5" cy="532.0" r="2.6"/>
<circle cx="340.1" cy="514.6" r="2.6"/>
<circle cx="360.8" cy="605.6" r="2.6"/>
<circle cx="311.4" cy="510.1" r="2.6"/>
<circle cx="429.9" cy="564.6" r="2.6"/>
<circle cx="377.3" cy="608.0" r="2.6"/>
<circle cx="354.6" cy="608.8" r="2.6"/>
<circle cx="330.1" cy="515.9" r="2.6"/>
<circle cx="328.5" cy="523.2" r="2.6"/>
<circle cx="403.3" cy="515.8" r="2.6"/>
<circle cx="430.6" cy="583.7" r="2.6"/>
<circle cx="425.1" cy="604.1" r="2.6"/>
<circle cx="264.7" cy="535.5" r="2.6"/>
<circle cx="286.4" cy="535.4" r="2.6"/>
<circle cx="286.6" cy="569.0" r="2.6"/>
<circle cx="360.0" cy="599.9" r="2.6"/>
<circle cx="402.4" cy="507.7" r="2.6"/>
<circle cx="285.6" cy="582.1" r="2.6"/>
<circle cx="318.3" cy="518.7" r="2.6"/>
<circle cx="293.3" cy="524.1" r="2.6"/>
<circle cx="411.6" cy="593.4" r="2.6"/>
<circle cx="424.6" cy="554.0" r="2.6"/>
<circle cx="408.1" cy="614.8" r="2.6"/>
<circle cx="275.2" cy="538.5" r="2.6"/>
<circle cx="293.3" cy="570.4" r="2.6"/>
<circle cx="287.9" cy="543.4" r="2.6"/>
<circle cx="403.3" cy="515.8" r="2.6"/>
<circle cx="297.0" cy="579.6" r="2.6"/>
<circle cx="283.0" cy="564.9" r="2.6"/>
<circle cx="289.3" cy="572.5" r="2.6"/>
<circle cx="275.2" cy="552.2" r="2.6"/>
<circle cx="319.6" cy="508.7" r="2.6"/>
<circle cx="409.8" cy="536.8" r="2.6"/>
<circle cx="386.1" cy="601.0" r="2.6"/>
<circle cx="357.6" cy="610.8" r="2.6"/>
<circle cx="346.1" cy="600.0" r="2.6"/>
<circle cx="312.7" cy="590.3" r="2.6"/>
<circle cx="402.3" cy="596.7" r="2.6"/>
<circle cx="367.9" cy="610.1" r="2.6"/>
<circle cx="423.8" cy="568.7" r="2.6"/>
<circle cx="365.8" cy="597.9" r="2.6"/>
<circle cx="373.9" cy="501.1" r="2.6"/>
<circle cx="437.6" cy="571.3" r="2.6"/>
<circle cx="355.9" cy="609.8" r="2.6"/>
<circle cx="277.1" cy="571.5" r="2.6"/>
<circle cx="369.1" cy="530.4" r="2.6"/>
<circle cx="415.5" cy="585.1" r="2.6"/>
<circle cx="432.0" cy="558.3" r="2.6"/>
<circle cx="430.1" cy="596.7" r="2.6"/>
<circle cx="425.5" cy="566.3" r="2.6"/>
<circle cx="372.3" cy="603.0" r="2.6"/>
<circle cx="335.0" cy="603.4" r="2.6"/>
<circle cx="277.2" cy="536.5" r="2.6"/>
<circle cx="425.5" cy="597.5" r="2.6"/>
<circle cx="386.5" cy="522.0" r="2.6"/>
<circle cx="398.2" cy="532.8" r="2.6"/>
<circle cx="426.1" cy="581.5" r="2.6"/>
<circle cx="419.5" cy="586.0" r="2.6"/>
<circle cx="351.8" cy="613.2" r="2.6"/>
<circle cx="261.4" cy="540.3" r="2.6"/>
<circle cx="413.2" cy="609.8" r="2.6"/>
<circle cx="374.3" cy="500.4" r="2.6"/>
<circle cx="338.1" cy="509.8" r="2.6"/>
<circle cx="343.9" cy="601.8" r="2.6"/>
<circle cx="349.4" cy="529.3" r="2.6"/>
<circle cx="288.0" cy="524.4" r="2.6"/>
<circle cx="417.2" cy="542.2" r="2.6"/>
<circle cx="345.1" cy="525.3" r="2.6"/>
<circle cx="419.1" cy="576.2" r="2.6"/>
<circle cx="269.9" cy="566.7" r="2.6"/>
<circle cx="357.8" cy="612.7" r="2.6"/>
<circle cx="347.2" cy="604.5" r="2.6"/>
<circle cx="287.6" cy="578.8" r="2.6"/>
<circle cx="421.0" cy="571.1" r="2.6"/>
<circle cx="412.4" cy="543.0" r="2.6"/>
<circle cx="353.3" cy="518.0" r="2.6"/>
<circle cx="337.6" cy="520.3" r="2.6"/>
<circle cx="350.6" cy="612.3" r="2.6"/>
<circle cx="417.7" cy="544.9" r="2.6"/>
<circle cx="285.8" cy="557.6" r="2.6"/>
<circle cx="351.9" cy="624.2" r="2.6"/>
<circle cx="331.1" cy="522.7" r="2.6"/>
<circle cx="426.4" cy="575.0" r="2.6"/>
<circle cx="392.6" cy="597.1" r="2.6"/>
<circle cx="423.4" cy="569.1" r="2.6"/>
<circle cx="274.8" cy="534.9" r="2.6"/>
<circle cx="280.2" cy="576.0" r="2.6"/>
<circle cx="344.6" cy="526.3" r="2.6"/>
<circle cx="293.2" cy="518.9" r="2.6"/>
<circle cx="390.8" cy="527.6" r="2.6"/>
<circle cx="413.4" cy="587.6" r="2.6"/>
<circle cx="282.2" cy="555.4" r="2.6"/>
<circle cx="403.6" cy="611.5" r="2.6"/>
<circle cx="402.9" cy="534.2" r="2.6"/>
<circle cx="420.9" cy="586.5" r="2.6"/>
<circle cx="343.8" cy="609.0" r="2.6"/>
<circle cx="295.1" cy="575.1" r="2.6"/>
<circle cx="360.6" cy="614.6" r="2.6"/>
<circle cx="296.3" cy="515.8" r="2.6"/>
<circle cx="379.7" cy="511.6" r="2.6"/>
<circle cx="403.9" cy="613.1" r="2.6"/>
<circle cx="427.6" cy="595.6" r="2.6"/>
<circle cx="377.8" cy="522.4" r="2.6"/>
<circle cx="282.9" cy="561.2" r="2.6"/>
<circle cx="419.9" cy="602.5" r="2.6"/>
<circle cx="324.3" cy="524.6" r="2.6"/>
<circle cx="300.2" cy="526.9" r="2.6"/>
<circle cx="276.8" cy="523.8" r="2.6"/>
<circle cx="318.2" cy="602.8" r="2.6"/>
<circle cx="403.7" cy="537.1" r="2.6"/>
<circle cx="280.8" cy="529.1" r="2.6"/>
<circle cx="414.4" cy="588.4" r="2.6"/>
<circle cx="376.7" cy="525.7" r="2.6"/>
<circle cx="376.9" cy="611.4" r="2.6"/>
<circle cx="344.5" cy="601.3" r="2.6"/>
<circle cx="310.2" cy="519.2" r="2.6"/>
<circle cx="285.0" cy="548.6" r="2.6"/>
<circle cx="406.5" cy="593.1" r="2.6"/>
<circle cx="372.9" cy="598.7" r="2.6"/>
<circle cx="290.0" cy="569.0" r="2.6"/>
<circle cx="267.7" cy="550.9" r="2.6"/>
<circle cx="364.4" cy="522.0" r="2.6"/>
<circle cx="370.6" cy="619.6" r="2.6"/>
<circle cx="339.0" cy="520.6" r="2.6"/>
<circle cx="282.4" cy="525.6" r="2.6"/>
<circle cx="377.1" cy="622.9" r="2.6"/>
<circle cx="301.1" cy="589.6" r="2.6"/>
<circle cx="321.3" cy="610.1" r="2.6"/>
<circle cx="286.6" cy="563.6" r="2.6"/>
<circle cx="347.4" cy="599.6" r="2.6"/>
<circle cx="339.2" cy="607.4" r="2.6"/>
<circle cx="275.7" cy="557.9" r="2.6"/>
<circle cx="266.5" cy="521.5" r="2.6"/>
<circle cx="378.2" cy="614.0" r="2.6"/>
<circle cx="402.9" cy="535.1" r="2.6"/>
<circle cx="336.2" cy="609.7" r="2.6"/>
<circle cx="355.2" cy="602.5" r="2.6"/>
<circle cx="308.6" cy="598.7" r="2.6"/>
<circle cx="351.8" cy="620.0" r="2.6"/>
<circle cx="419.8" cy="591.0" r="2.6"/>
<circle cx="301.7" cy="584.9" r="2.6"/>
<circle cx="389.0" cy="606.5" r="2.6"/>
<circle cx="371.3" cy="515.9" r="2.6"/>
<circle cx="277.9" cy="565.8" r="2.6"/>
<circle cx="314.0" cy="593.9" r="2.6"/>
<circle cx="352.5" cy="617.0" r="2.6"/>
<circle cx="357.6" cy="606.3" r="2.6"/>
<circle cx="413.1" cy="533.5" r="2.6"/>
<circle cx="377.3" cy="511.0" r="2.6"/>
<circle cx="321.5" cy="607.2" r="2.6"/>
<circle cx="278.5" cy="556.9" r="2.6"/>
<circle cx="358.5" cy="598.3" r="2.6"/>
<circle cx="378.9" cy="521.0" r="2.6"/>
<circle cx="333.7" cy="518.2" r="2.6"/>
<circle cx="345.4" cy="602.1" r="2.6"/>
<circle cx="392.6" cy="526.8" r="2.6"/>
<circle cx="353.7" cy="598.2" r="2.6"/>
<circle cx="336.3" cy="600.8" r="2.6"/>
<circle cx="348.3" cy="525.5" r="2.6"/>
<circle cx="419.6" cy="535.3" r="2.6"/>
<circle cx="339.0" cy="614.8" r="2.6"/>
<circle cx="414.1" cy="551.1" r="2.6"/>
<circle cx="414.0" cy="543.2" r="2.6"/>
<circle cx="396.2" cy="517.1" r="2.6"/>
<circle cx="368.2" cy="605.0" r="2.6"/>
<circle cx="433.9" cy="583.3" r="2.6"/>
<circle cx="274.1" cy="553.9" r="2.6"/>
<circle cx="366.7" cy="524.1" r="2.6"/>
<circle cx="395.7" cy="517.6" r="2.6"/>
<circle cx="348.4" cy="607.7" r="2.6"/>
<circle cx="381.4" cy="602.9" r="2.6"/>
<circle cx="346.8" cy="510.3" r="2.6"/>
<circle cx="321.1" cy="601.7" r="2.6"/>
<circle cx="396.3" cy="528.9" r="2.6"/>
<circle cx="347.3" cy="608.4" r="2.6"/>
<circle cx="422.7" cy="583.9" r="2.6"/>
<circle cx="323.0" cy="521.5" r="2.6"/>
<circle cx="393.8" cy="525.9" r="2.6"/>
<circle cx="343.3" cy="523.2" r="2.6"/>
<circle cx="287.5" cy="544.3" r="2.6"/>
<circle cx="368.3" cy="613.7" r="2.6"/>
<circle cx="335.7" cy="600.3" r="2.6"/>
<circle cx="382.1" cy="531.6" r="2.6"/>
<circle cx="427.1" cy="547.9" r="2.6"/>
<circle cx="340.5" cy="616.4" r="2.6"/>
<circle cx="313.4" cy="604.3" r="2.6"/>
<circle cx="276.3" cy="565.9" r="2.6"/>
<circle cx="425.7" cy="584.0" r="2.6"/>
<circle cx="335.5" cy="602.5" r="2.6"/>
<circle cx="322.1" cy="525.1" r="2.6"/>
<circle cx="424.0" cy="547.5" r="2.6"/>
<circle cx="299.4" cy="519.9" r="2.6"/>
<circle cx="406.8" cy="601.5" r="2.6"/>
<circle cx="393.3" cy="612.2" r="2.6"/>
<circle cx="361.1" cy="523.7" r="2.6"/>
<circle cx="374.3" cy="605.8" r="2.6"/>
<circle cx="380.0" cy="526.6" r="2.6"/>
<circle cx="423.7" cy="580.4" r="2.6"/>
<circle cx="290.1" cy="533.0" r="2.6"/>
<circle cx="391.9" cy="514.9" r="2.6"/>
<circle cx="287.4" cy="578.8" r="2.6"/>
<circle cx="382.0" cy="596.4" r="2.6"/>
<circle cx="417.2" cy="541.3" r="2.6"/>
<circle cx="285.1" cy="575.1" r="2.6"/>
<circle cx="333.0" cy="518.7" r="2.6"/>
<circle cx="271.6" cy="522.1" r="2.6"/>
<circle cx="354.7" cy="598.9" r="2.6"/>
<circle cx="303.8" cy="524.3" r="2.6"/>
<circle cx="418.8" cy="548.8" r="2.6"/>
<circle cx="357.0" cy="531.3" r="2.6"/>
<circle cx="285.2" cy="555.1" r="2.6"/>
<circle cx="264.3" cy="548.0" r="2.6"/>
<circle cx="363.5" cy="619.3" r="2.6"/>
<circle cx="298.5" cy="586.9" r="2.6"/>
<circle cx="292.4" cy="532.1" r="2.6"/>
<circle cx="407.9" cy="611.5" r="2.6"/>
<circle cx="320.3" cy="597.9" r="2.6"/>
<circle cx="277.5" cy="526.9" r="2.6"/>
<circle cx="357.0" cy="534.0" r="2.6"/>
<circle cx="419.8" cy="541.6" r="2.6"/>
<circle cx="324.8" cy="600.1" r="2.6"/>
<circle cx="286.4" cy="553.1" r="2.6"/>
<circle cx="312.1" cy="522.6" r="2.6"/>
<circle cx="353.4" cy="513.8" r="2.6"/>
<circle cx="278.0" cy="519.8" r="2.6"/>
<circle cx="328.2" cy="601.2" r="2.6"/>
<circle cx="316.0" cy="521.4" r="2.6"/>
<circle cx="284.6" cy="576.3" r="2.6"/>
<circle cx="343.1" cy="604.5" r="2.6"/>
<circle cx="353.6" cy="532.6" r="2.6"/>
<circle cx="328.6" cy="525.8" r="2.6"/>
<circle cx="385.6" cy="517.3" r="2.6"/>
<circle cx="331.4" cy="526.4" r="2.6"/>
<circle cx="372.5" cy="597.0" r="2.6"/>
<circle cx="421.9" cy="544.6" r="2.6"/>
<circle cx="348.9" cy="527.0" r="2.6"/>
<circle cx="417.4" cy="583.4" r="2.6"/>
<circle cx="336.4" cy="612.1" r="2.6"/>
<circle cx="403.4" cy="529.8" r="2.6"/>
<circle cx="381.6" cy="513.0" r="2.6"/>
<circle cx="411.0" cy="602.9" r="2.6"/>
<circle cx="332.7" cy="598.9" r="2.6"/>
<circle cx="371.4" cy="531.8" r="2.6"/>
<circle cx="363.9" cy="597.2" r="2.6"/>
<circle cx="356.2" cy="530.0" r="2.6"/>
<circle cx="373.2" cy="511.3" r="2.6"/>
<circle cx="284.0" cy="555.9" r="2.6"/>
<circle cx="321.6" cy="521.5" r="2.6"/>
<circle cx="261.7" cy="556.7" r="2.6"/>
<circle cx="376.5" cy="599.6" r="2.6"/>
<circle cx="315.1" cy="591.0" r="2.6"/>
<circle cx="417.9" cy="562.2" r="2.6"/>
<circle cx="304.2" cy="521.8" r="2.6"/>
<circle cx="370.5" cy="600.3" r="2.6"/>
<circle cx="296.6" cy="530.5" r="2.6"/>
<circle cx="414.9" cy="516.0" r="2.6"/>
<circle cx="374.6" cy="530.0" r="2.6"/>
<circle cx="282.9" cy="567.6" r="2.6"/>
<circle cx="317.6" cy="520.7" r="2.6"/>
<circle cx="316.6" cy="592.8" r="2.6"/>
<circle cx="387.1" cy="524.1" r="2.6"/>
<circle cx="424.1" cy="586.5" r="2.6"/>
<circle cx="406.6" cy="525.8" r="2.6"/>
<circle cx="288.7" cy="544.0" r="2.6"/>
<circle cx="310.2" cy="510.9" r="2.6"/>
<circle cx="296.4" cy="576.7" r="2.6"/>
<circle cx="417.8" cy="550.2" r="2.6"/>
<circle cx="276.4" cy="529.0" r="2.6"/>
<circle cx="378.3" cy="602.9" r="2.6"/>
<circle cx="268.8" cy="557.3" r="2.6"/>
<circle cx="391.4" cy="603.0" r="2.6"/>
<circle cx="416.7" cy="598.4" r="2.6"/>
<circle cx="413.6" cy="544.1" r="2.6"/>
<circle cx="324.4" cy="517.0" r="2.6"/>
<circle cx="363.3" cy="626.2" r="2.6"/>
<circle cx="413.9" cy="530.1" r="2.6"/>
<circle cx="429.1" cy="564.4" r="2.6"/>
<circle cx="399.8" cy="533.1" r="2.6"/>
<circle cx="314.7" cy="601.2" r="2.6"/>
<circle cx="388.2" cy="605.9" r="2.6"/>
<circle cx="283.5" cy="551.9" r="2.6"/>
<circle cx="348.9" cy="512.6" r="2.6"/>
<circle cx="355.4" cy="606.0" r="2.6"/>
<circle cx="423.3" cy="606.8" r="2.6"/>
<circle cx="360.9" cy="517.6" r="2.6"/>
<circle cx="285.2" cy="518.6" r="2.6"/>
<circle cx="417.4" cy="610.9" r="2.6"/>
<circle cx="307.5" cy="511.0" r="2.6"/>
<circle cx="386.0" cy="616.8" r="2.6"/>
<circle cx="285.8" cy="563.5" r="2.6"/>
<circle cx="325.9" cy="603.5" r="2.6"/>
<circle cx="350.3" cy="603.5" r="2.6"/>
<circle cx="422.6" cy="539.4" r="2.6"/>
<circle cx="276.1" cy="524.1" r="2.6"/>
<circle cx="281.5" cy="556.9" r="2.6"/>
<circle cx="369.4" cy="513.9" r="2.6"/>
<circle cx="295.7" cy="524.8" r="2.6"/>
<circle cx="282.0" cy="527.9" r="2.6"/>
<circle cx="349.7" cy="529.8" r="2.6"/>
<circle cx="386.6" cy="521.6" r="2.6"/>
<circle cx="295.7" cy="522.8" r="2.6"/>
<circle cx="323.5" cy="610.6" r="2.6"/>
<circle cx="412.7" cy="536.4" r="2.6"/>
<circle cx="410.4" cy="535.0" r="2.6"/>
<circle cx="288.7" cy="582.8" r="2.6"/>
<circle cx="391.9" cy="599.2" r="2.6"/>
<circle cx="430.0" cy="589.0" r="2.6"/>
<circle cx="424.0" cy="540.7" r="2.6"/>
<circle cx="402.7" cy="603.1" r="2.6"/>
<circle cx="352.9" cy="609.3" r="2.6"/>
<circle cx="361.2" cy="598.5" r="2.6"/>
<circle cx="352.6" cy="522.1" r="2.6"/>
<circle cx="271.6" cy="526.3" r="2.6"/>
<circle cx="427.8" cy="572.7" r="2.6"/>
<circle cx="317.2" cy="510.1" r="2.6"/>
<circle cx="291.3" cy="584.2" r="2.6"/>
<circle cx="331.6" cy="609.2" r="2.6"/>
<circle cx="330.6" cy="606.8" r="2.6"/>
<circle cx="402.7" cy="515.0" r="2.6"/>
<circle cx="412.0" cy="538.2" r="2.6"/>
<circle cx="374.3" cy="609.1" r="2.6"/>
<circle cx="280.4" cy="560.1" r="2.6"/>
<circle cx="343.9" cy="628.6" r="2.6"/>
<circle cx="327.7" cy="518.3" r="2.6"/>
<circle cx="364.1" cy="613.6" r="2.6"/>
<circle cx="401.8" cy="506.6" r="2.6"/>
<circle cx="267.9" cy="557.4" r="2.6"/>
<circle cx="285.1" cy="564.4" r="2.6"/>
<circle cx="343.9" cy="609.7" r="2.6"/>
<circle cx="335.0" cy="524.6" r="2.6"/>
<circle cx="304.7" cy="585.7" r="2.6"/>
<circle cx="395.9" cy="509.9" r="2.6"/>
<circle cx="304.5" cy="518.9" r="2.6"/>
<circle cx="403.4" cy="523.6" r="2.6"/>
<circle cx="392.8" cy="519.0" r="2.6"/>
<circle cx="421.5" cy="589.7" r="2.6"/>
<circle cx="391.9" cy="531.0" r="2.6"/>
<circle cx="344.4" cy="616.5" r="2.6"/>
<circle cx="317.3" cy="516.1" r="2.6"/>
<circle cx="351.3" cy="517.2" r="2.6"/>
<circle cx="312.0" cy="592.9" r="2.6"/>
<circle cx="354.2" cy="522.1" r="2.6"/>
<circle cx="294.5" cy="588.5" r="2.6"/>
<circle cx="397.7" cy="511.4" r="2.6"/>
<circle cx="430.1" cy="578.3" r="2.6"/>
<circle cx="422.4" cy="574.4" r="2.6"/>
<circle cx="304.8" cy="584.2" r="2.6"/>
<circle cx="297.6" cy="512.3" r="2.6"/>
<circle cx="278.5" cy="564.3" r="2.6"/>
<circle cx="301.9" cy="583.7" r="2.6"/>
<circle cx="297.9" cy="585.4" r="2.6"/>
<circle cx="439.3" cy="586.9" r="2.6"/>
<circle cx="318.0" cy="609.7" r="2.6"/>
<circle cx="311.9" cy="601.2" r="2.6"/>
<circle cx="421.5" cy="558.5" r="2.6"/>
<circle cx="348.5" cy="531.0" r="2.6"/>
<circle cx="286.2" cy="525.3" r="2.6"/>
<circle cx="307.1" cy="514.5" r="2.6"/>
<circle cx="334.7" cy="518.5" r="2.6"/>
<circle cx="407.5" cy="518.0" r="2.6"/>
<circle cx="413.1" cy="530.1" r="2.6"/>
<circle cx="265.3" cy="542.9" r="2.6"/>
<circle cx="390.9" cy="610.2" r="2.6"/>
<circle cx="359.1" cy="611.7" r="2.6"/>
<circle cx="279.8" cy="567.3" r="2.6"/>
<circle cx="359.2" cy="629.1" r="2.6"/>
<circle cx="282.2" cy="554.7" r="2.6"/>
<circle cx="276.6" cy="545.5" r="2.6"/>
<circle cx="420.9" cy="556.5" r="2.6"/>
<circle cx="381.2" cy="531.1" r="2.6"/>
<circle cx="386.5" cy="503.7" r="2.6"/>
<circle cx="396.7" cy="597.4" r="2.6"/>
<circle cx="411.1" cy="594.1" r="2.6"/>
<circle cx="358.9" cy="534.1" r="2.6"/>
<circle cx="406.6" cy="598.9" r="2.6"/>
<circle cx="431.3" cy="549.7" r="2.6"/>
<circle cx="318.1" cy="599.5" r="2.6"/>
<circle cx="371.0" cy="629.3" r="2.6"/>
<circle cx="300.3" cy="583.1" r="2.6"/>
<circle cx="307.5" cy="525.4" r="2.6"/>
<circle cx="418.6" cy="558.4" r="2.6"/>
<circle cx="343.1" cy="512.7" r="2.6"/>
<circle cx="313.3" cy="597.4" r="2.6"/>
<circle cx="403.2" cy="599.9" r="2.6"/>
<circle cx="438.5" cy="578.0" r="2.6"/>
<circle cx="365.0" cy="524.7" r="2.6"/>
<circle cx="374.9" cy="505.7" r="2.6"/>
<circle cx="379.0" cy="625.3" r="2.6"/>
<circle cx="393.6" cy="510.0" r="2.6"/>
<circle cx="389.8" cy="617.0" r="2.6"/>
<circle cx="318.9" cy="604.8" r="2.6"/>
<circle cx="428.2" cy="599.1" r="2.6"/>
<circle cx="294.7" cy="591.6" r="2.6"/>
<circle cx="278.7" cy="543.8" r="2.6"/>
<circle cx="315.7" cy="599.8" r="2.6"/>
<circle cx="423.2" cy="576.4" r="2.6"/>
<circle cx="327.5" cy="606.9" r="2.6"/>
<circle cx="286.4" cy="583.6" r="2.6"/>
<circle cx="312.5" cy="602.4" r="2.6"/>
<circle cx="266.5" cy="546.6" r="2.6"/>
<circle cx="418.7" cy="556.6" r="2.6"/>
<circle cx="372.1" cy="516.7" r="2.6"/>
<circle cx="366.1" cy="532.1" r="2.6"/>
<circle cx="272.2" cy="565.5" r="2.6"/>
<circle cx="363.2" cy="499.2" r="2.6"/>
<circle cx="424.3" cy="532.1" r="2.6"/>
<circle cx="399.6" cy="606.5" r="2.6"/>
<circle cx="273.2" cy="550.3" r="2.6"/>
<circle cx="285.3" cy="535.8" r="2.6"/>
<circle cx="406.4" cy="598.2" r="2.6"/>
<circle cx="267.6" cy="534.7" r="2.6"/>
<circle cx="422.6" cy="601.3" r="2.6"/>
<circle cx="357.8" cy="533.1" r="2.6"/>
<circle cx="417.9" cy="569.2" r="2.6"/>
<circle cx="301.0" cy="528.2" r="2.6"/>
<circle cx="282.5" cy="559.1" r="2.6"/>
<circle cx="279.0" cy="563.8" r="2.6"/>
<circle cx="381.3" cy="526.3" r="2.6"/>
<circle cx="424.6" cy="578.9" r="2.6"/>
<circle cx="414.4" cy="542.4" r="2.6"/>
<circle cx="404.4" cy="532.2" r="2.6"/>
<circle cx="301.3" cy="511.4" r="2.6"/>
<circle cx="439.1" cy="572.7" r="2.6"/>
<circle cx="383.0" cy="510.4" r="2.6"/>
<circle cx="266.7" cy="540.7" r="2.6"/>
<circle cx="369.0" cy="597.3" r="2.6"/>
<circle cx="303.3" cy="588.3" r="2.6"/>
<circle cx="385.7" cy="530.0" r="2.6"/>
<circle cx="376.8" cy="526.0" r="2.6"/>
<circle cx="422.6" cy="587.6" r="2.6"/>
<circle cx="432.6" cy="574.1" r="2.6"/>
<circle cx="285.7" cy="541.6" r="2.6"/>
<circle cx="387.1" cy="598.7" r="2.6"/>
<circle cx="365.1" cy="514.3" r="2.6"/>
<circle cx="414.8" cy="550.6" r="2.6"/>
<circle cx="291.2" cy="521.8" r="2.6"/>
<circle cx="305.2" cy="583.9" r="2.6"/>
<circle cx="268.8" cy="554.1" r="2.6"/>
<circle cx="312.8" cy="592.0" r="2.6"/>
<circle cx="406.1" cy="605.5" r="2.6"/>
<circle cx="332.3" cy="598.6" r="2.6"/>
<circle cx="398.2" cy="522.1" r="2.6"/>
<circle cx="393.7" cy="602.0" r="2.6"/>
<circle cx="354.0" cy="611.2" r="2.6"/>
<circle cx="288.4" cy="536.0" r="2.6"/>
<circle cx="349.3" cy="528.9" r="2.6"/>
<circle cx="323.1" cy="526.7" r="2.6"/>
<circle cx="368.0" cy="530.1" r="2.6"/>
<circle cx="273.3" cy="543.6" r="2.6"/>
<circle cx="406.2" cy="597.0" r="2.6"/>
<circle cx="377.5" cy="509.7" r="2.6"/>
<circle cx="343.5" cy="502.9" r="2.6"/>
<circle cx="366.7" cy="603.8" r="2.6"/>
<circle cx="262.6" cy="546.2" r="2.6"/>
<circle cx="393.9" cy="530.3" r="2.6"/>
<circle cx="317.3" cy="598.7" r="2.6"/>
<circle cx="228.1" cy="502.8" r="2.6"/>
<circle cx="238.1" cy="506.3" r="2.6"/>
<circle cx="230.4" cy="512.1" r="2.6"/>
<circle cx="219.6" cy="500.7" r="2.6"/>
<circle cx="239.9" cy="507.0" r="2.6"/>
<circle cx="214.1" cy="517.4" r="2.6"/>
<circle cx="221.2" cy="515.2" r="2.6"/>
<circle cx="213.4" cy="516.1" r="2.6"/>
<circle cx="244.5" cy="524.4" r="2.6"/>
<circle cx="250.7" cy="503.2" r="2.6"/>
<circle cx="256.9" cy="558.1" r="2.6"/>
<circle cx="217.6" cy="511.1" r="2.6"/>
<circle cx="258.5" cy="512.0" r="2.6"/>
<circle cx="263.9" cy="514.6" r="2.6"/>
<circle cx="211.5" cy="516.0" r="2.6"/>
<circle cx="255.0" cy="504.3" r="2.6"/>
<circle cx="237.1" cy="507.2" r="2.6"/>
<circle cx="242.5" cy="547.5" r="2.6"/>
<circle cx="244.7" cy="522.6" r="2.6"/>
<circle cx="231.7" cy="520.8" r="2.6"/>
<circle cx="221.4" cy="528.9" r="2.6"/>
<circle cx="211.4" cy="515.4" r="2.6"/>
<circle cx="228.6" cy="530.1" r="2.6"/>
<circle cx="257.2" cy="511.0" r="2.6"/>
<circle cx="212.0" cy="519.4" r="2.6"/>
<circle cx="242.2" cy="547.7" r="2.6"/>
<circle cx="221.7" cy="517.6" r="2.6"/>
<circle cx="224.5" cy="511.6" r="2.6"/>
<circle cx="210.1" cy="518.1" r="2.6"/>
<circle cx="241.2" cy="536.7" r="2.6"/>
<circle cx="252.4" cy="527.7" r="2.6"/>
<circle cx="225.8" cy="498.6" r="2.6"/>
<circle cx="217.3" cy="510.0" r="2.6"/>
<circle cx="263.5" cy="512.0" r="2.6"/>
<circle cx="220.1" cy="510.2" r="2.6"/>
<circle cx="250.2" cy="548.2" r="2.6"/>
<circle cx="210.7" cy="511.9" r="2.6"/>
<circle cx="214.0" cy="507.4" r="2.6"/>
<circle cx="241.3" cy="510.1" r="2.6"/>
<circle cx="242.7" cy="506.9" r="2.6"/>
<circle cx="238.7" cy="542.2" r="2.6"/>
<circle cx="230.4" cy="496.7" r="2.6"/>
<circle cx="253.0" cy="531.3" r="2.6"/>
<circle cx="244.0" cy="533.5" r="2.6"/>
<circle cx="238.9" cy="534.7" r="2.6"/>
<circle cx="250.6" cy="545.8" r="2.6"/>
<circle cx="258.8" cy="554.6" r="2.6"/>
<circle cx="316.2" cy="483.6" r="2.6"/>
<circle cx="313.6" cy="484.4" r="2.6"/>
<circle cx="309.4" cy="497.4" r="2.6"/>
<circle cx="288.7" cy="508.7" r="2.6"/>
<circle cx="419.7" cy="508.6" r="2.6"/>
<circle cx="303.7" cy="503.0" r="2.6"/>
<circle cx="318.8" cy="495.9" r="2.6"/>
<circle cx="323.1" cy="484.1" r="2.6"/>
<circle cx="356.6" cy="485.2" r="2.6"/>
<circle cx="336.1" cy="485.3" r="2.6"/>
<circle cx="417.9" cy="504.4" r="2.6"/>
<circle cx="325.2" cy="483.6" r="2.6"/>
<circle cx="293.2" cy="497.4" r="2.6"/>
<circle cx="395.2" cy="494.7" r="2.6"/>
<circle cx="282.6" cy="497.2" r="2.6"/>
<circle cx="351.8" cy="492.7" r="2.6"/>
<circle cx="271.3" cy="497.9" r="2.6"/>
<circle cx="337.8" cy="497.2" r="2.6"/>
<circle cx="349.2" cy="493.6" r="2.6"/>
<circle cx="418.7" cy="509.5" r="2.6"/>
<circle cx="372.9" cy="487.9" r="2.6"/>
<circle cx="398.6" cy="502.8" r="2.6"/>
<circle cx="388.4" cy="499.8" r="2.6"/>
<circle cx="297.1" cy="506.1" r="2.6"/>
<circle cx="299.1" cy="503.7" r="2.6"/>
<circle cx="409.5" cy="489.2" r="2.6"/>
<circle cx="295.0" cy="486.1" r="2.6"/>
<circle cx="348.2" cy="500.3" r="2.6"/>
<circle cx="378.1" cy="497.7" r="2.6"/>
<circle cx="358.0" cy="483.1" r="2.6"/>
<circle cx="312.7" cy="504.5" r="2.6"/>
<circle cx="319.6" cy="500.1" r="2.6"/>
<circle cx="349.1" cy="495.4" r="2.6"/>
<circle cx="279.1" cy="492.4" r="2.6"/>
<circle cx="324.8" cy="490.9" r="2.6"/>
<circle cx="291.3" cy="507.3" r="2.6"/>
<circle cx="384.3" cy="485.6" r="2.6"/>
<circle cx="404.2" cy="493.3" r="2.6"/>
<circle cx="325.1" cy="486.3" r="2.6"/>
<circle cx="312.4" cy="495.1" r="2.6"/>
<circle cx="306.9" cy="500.6" r="2.6"/>
<circle cx="390.1" cy="486.8" r="2.6"/>
<circle cx="401.2" cy="498.7" r="2.6"/>
<circle cx="377.4" cy="637.8" r="2.6"/>
<circle cx="391.5" cy="638.7" r="2.6"/>
<circle cx="422.3" cy="615.4" r="2.6"/>
<circle cx="387.3" cy="633.1" r="2.6"/>
<circle cx="422.9" cy="610.4" r="2.6"/>
<circle cx="425.3" cy="643.8" r="2.6"/>
<circle cx="401.0" cy="628.0" r="2.6"/>
<circle cx="425.1" cy="618.9" r="2.6"/>
<circle cx="435.2" cy="640.1" r="2.6"/>
<circle cx="417.1" cy="637.6" r="2.6"/>
<circle cx="421.0" cy="630.0" r="2.6"/>
<circle cx="450.5" cy="618.6" r="2.6"/>
<circle cx="397.3" cy="636.8" r="2.6"/>
<circle cx="442.9" cy="627.4" r="2.6"/>
<circle cx="446.0" cy="632.0" r="2.6"/>
<circle cx="371.6" cy="633.4" r="2.6"/>
<circle cx="433.7" cy="628.1" r="2.6"/>
<circle cx="403.7" cy="626.8" r="2.6"/>
<circle cx="371.8" cy="631.6" r="2.6"/>
<circle cx="422.4" cy="626.1" r="2.6"/>
<circle cx="428.2" cy="629.8" r="2.6"/>
<circle cx="447.1" cy="629.9" r="2.6"/>
<circle cx="387.7" cy="644.1" r="2.6"/>
<circle cx="373.4" cy="631.8" r="2.6"/>
<circle cx="396.2" cy="629.1" r="2.6"/>
<circle cx="229.6" cy="430.7" r="2.6"/>
<circle cx="298.1" cy="438.7" r="2.6"/>
<circle cx="249.2" cy="461.3" r="2.6"/>
<circle cx="214.6" cy="479.6" r="2.6"/>
<circle cx="262.0" cy="482.9" r="2.6"/>
<circle cx="292.0" cy="478.8" r="2.6"/>
<circle cx="291.2" cy="480.3" r="2.6"/>
<circle cx="286.4" cy="487.2" r="2.6"/>
<circle cx="248.2" cy="492.7" r="2.6"/>
<circle cx="274.0" cy="493.7" r="2.6"/>
<circle cx="226.3" cy="496.4" r="2.6"/>
<circle cx="231.4" cy="497.1" r="2.6"/>
<circle cx="300.0" cy="492.7" r="2.6"/>
<circle cx="246.7" cy="500.0" r="2.6"/>
<circle cx="294.9" cy="499.3" r="2.6"/>
<circle cx="214.7" cy="479.8" r="2.6"/>
<circle cx="262.0" cy="482.8" r="2.6"/>
<circle cx="247.9" cy="492.6" r="2.6"/>
<circle cx="274.2" cy="493.6" r="2.6"/>
<circle cx="226.4" cy="496.0" r="2.6"/>
<circle cx="225.3" cy="497.7" r="2.6"/>
<circle cx="231.4" cy="497.0" r="2.6"/>
<circle cx="203.4" cy="505.0" r="2.6"/>
<circle cx="213.9" cy="504.7" r="2.6"/>
<circle cx="219.4" cy="506.2" r="2.6"/>
<circle cx="222.6" cy="509.1" r="2.6"/>
<circle cx="246.4" cy="501.0" r="2.6"/>
<circle cx="250.4" cy="503.9" r="2.6"/>
<circle cx="241.3" cy="508.7" r="2.6"/>
<circle cx="242.8" cy="508.2" r="2.6"/>
<circle cx="261.0" cy="511.9" r="2.6"/>
<circle cx="269.0" cy="509.4" r="2.6"/>
<circle cx="269.8" cy="513.8" r="2.6"/>
<circle cx="278.5" cy="505.0" r="2.6"/>
<circle cx="253.0" cy="513.8" r="2.6"/>
<circle cx="232.6" cy="510.9" r="2.6"/>
<circle cx="231.1" cy="513.8" r="2.6"/>
<circle cx="220.1" cy="515.3" r="2.6"/>
<circle cx="223.8" cy="516.7" r="2.6"/>
<circle cx="215.0" cy="519.6" r="2.6"/>
<circle cx="218.0" cy="524.0" r="2.6"/>
<circle cx="225.3" cy="522.6" r="2.6"/>
<circle cx="234.0" cy="526.2" r="2.6"/>
<circle cx="227.4" cy="531.3" r="2.6"/>
<circle cx="246.4" cy="550.3" r="2.6"/>
<circle cx="315.0" cy="403.4" r="2.6"/>
<circle cx="229.5" cy="430.7" r="2.6"/>
<circle cx="303.8" cy="428.2" r="2.6"/>
<circle cx="298.7" cy="438.7" r="2.6"/>
<circle cx="310.8" cy="438.7" r="2.6"/>
<circle cx="316.7" cy="436.8" r="2.6"/>
<circle cx="317.4" cy="453.6" r="2.6"/>
<circle cx="308.0" cy="457.9" r="2.6"/>
<circle cx="312.0" cy="463.0" r="2.6"/>
<circle cx="315.0" cy="464.4" r="2.6"/>
<circle cx="334.7" cy="462.5" r="2.6"/>
<circle cx="338.9" cy="457.9" r="2.6"/>
<circle cx="248.9" cy="461.4" r="2.6"/>
<circle cx="214.6" cy="479.3" r="2.6"/>
<circle cx="292.6" cy="478.9" r="2.6"/>
<circle cx="305.0" cy="478.9" r="2.6"/>
<circle cx="311.3" cy="475.4" r="2.6"/>
<circle cx="329.5" cy="480.0" r="2.6"/>
<circle cx="341.2" cy="480.0" r="2.6"/>
<circle cx="382.1" cy="344.1" r="2.6"/>
<circle cx="387.9" cy="341.5" r="2.6"/>
<circle cx="377.4" cy="382.6" r="2.6"/>
<circle cx="373.9" cy="404.8" r="2.6"/>
<circle cx="410.8" cy="429.1" r="2.6"/>
<circle cx="348.2" cy="434.0" r="2.6"/>
<circle cx="382.8" cy="432.6" r="2.6"/>
<circle cx="391.9" cy="433.3" r="2.6"/>
<circle cx="379.7" cy="444.5" r="2.6"/>
<circle cx="370.8" cy="446.9" r="2.6"/>
<circle cx="364.5" cy="449.7" r="2.6"/>
<circle cx="386.0" cy="450.1" r="2.6"/>
<circle cx="417.1" cy="454.3" r="2.6"/>
<circle cx="378.1" cy="458.3" r="2.6"/>
<circle cx="340.0" cy="457.9" r="2.6"/>
<circle cx="348.2" cy="466.7" r="2.6"/>
<circle cx="352.9" cy="467.7" r="2.6"/>
<circle cx="354.0" cy="471.9" r="2.6"/>
<circle cx="387.9" cy="473.0" r="2.6"/>
<circle cx="361.0" cy="476.5" r="2.6"/>
<circle cx="366.2" cy="475.4" r="2.6"/>
<circle cx="372.2" cy="476.1" r="2.6"/>
<circle cx="343.5" cy="480.0" r="2.6"/>
<circle cx="354.0" cy="478.9" r="2.6"/>
<circle cx="380.9" cy="479.3" r="2.6"/>
<circle cx="392.6" cy="478.4" r="2.6"/>
<circle cx="412.9" cy="478.4" r="2.6"/>
<circle cx="425.5" cy="482.2" r="2.6"/>
<circle cx="401.5" cy="506.3" r="2.6"/>
<circle cx="418.2" cy="501.9" r="2.6"/>
<circle cx="417.5" cy="506.3" r="2.6"/>
<circle cx="416.0" cy="516.5" r="2.6"/>
<circle cx="414.6" cy="523.1" r="2.6"/>
<circle cx="419.0" cy="527.4" r="2.6"/>
<circle cx="421.2" cy="529.6" r="2.6"/>
<circle cx="425.5" cy="530.8" r="2.6"/>
<circle cx="441.2" cy="522.3" r="2.6"/>
<circle cx="439.4" cy="539.1" r="2.6"/>
<circle cx="420.4" cy="539.9" r="2.6"/>
<circle cx="428.5" cy="547.2" r="2.6"/>
<circle cx="435.8" cy="550.8" r="2.6"/>
<circle cx="432.8" cy="554.5" r="2.6"/>
<circle cx="425.5" cy="555.9" r="2.6"/>
<circle cx="424.1" cy="558.1" r="2.6"/>
<circle cx="429.2" cy="563.2" r="2.6"/>
<circle cx="433.6" cy="567.6" r="2.6"/>
<circle cx="438.0" cy="561.8" r="2.6"/>
<circle cx="442.3" cy="564.7" r="2.6"/>
<circle cx="449.6" cy="567.6" r="2.6"/>
<circle cx="445.3" cy="570.5" r="2.6"/>
<circle cx="439.4" cy="573.4" r="2.6"/>
<circle cx="421.6" cy="678.1" r="2.6"/>
<circle cx="436.8" cy="682.8" r="2.6"/>
<circle cx="384.3" cy="660.1" r="2.6"/>
<circle cx="401.8" cy="664.6" r="2.6"/>
<circle cx="414.6" cy="650.1" r="2.6"/>
<circle cx="418.1" cy="648.5" r="2.6"/>
<circle cx="435.0" cy="648.9" r="2.6"/>
<circle cx="393.6" cy="652.0" r="2.6"/>
<circle cx="391.3" cy="643.1" r="2.6"/>
<circle cx="394.8" cy="638.4" r="2.6"/>
<circle cx="446.2" cy="636.1" r="2.6"/>
<circle cx="447.3" cy="639.6" r="2.6"/>
<circle cx="448.5" cy="629.1" r="2.6"/>
<circle cx="455.5" cy="623.2" r="2.6"/>
<circle cx="467.2" cy="605.7" r="2.6"/>
<circle cx="473.0" cy="601.0" r="2.6"/>
<circle cx="462.5" cy="583.5" r="2.6"/>
<circle cx="450.8" cy="604.5" r="2.6"/>
<circle cx="447.3" cy="610.4" r="2.6"/>
<circle cx="449.7" cy="612.7" r="2.6"/>
<circle cx="417.0" cy="633.7" r="2.6"/>
<circle cx="422.8" cy="634.9" r="2.6"/>
<circle cx="428.6" cy="637.2" r="2.6"/>
<circle cx="395.9" cy="624.4" r="2.6"/>
<circle cx="404.1" cy="627.9" r="2.6"/>
<circle cx="408.8" cy="617.4" r="2.6"/>
<circle cx="413.5" cy="623.2" r="2.6"/>
<circle cx="415.8" cy="619.7" r="2.6"/>
<circle cx="383.1" cy="618.6" r="2.6"/>
<circle cx="387.8" cy="615.0" r="2.6"/>
<circle cx="390.1" cy="609.2" r="2.6"/>
<circle cx="397.1" cy="609.2" r="2.6"/>
<circle cx="405.3" cy="615.0" r="2.6"/>
<circle cx="441.5" cy="615.0" r="2.6"/>
<circle cx="434.5" cy="622.1" r="2.6"/>
<circle cx="436.8" cy="608.0" r="2.6"/>
<circle cx="427.5" cy="619.7" r="2.6"/>
<circle cx="429.8" cy="608.0" r="2.6"/>
<circle cx="350.4" cy="634.9" r="2.6"/>
<circle cx="360.9" cy="636.1" r="2.6"/>
<circle cx="348.0" cy="626.7" r="2.6"/>
<circle cx="362.0" cy="644.3" r="2.6"/>
<circle cx="369.0" cy="641.9" r="2.6"/>
<circle cx="374.9" cy="644.3" r="2.6"/>
<circle cx="381.2" cy="647.8" r="2.6"/>
<circle cx="348.2" cy="209.2" r="2.6"/>
<circle cx="457.7" cy="244.2" r="2.6"/>
</g>
<line x1="105.80" y1="491.20" x2="372.10" y2="194.40" stroke="#000" stroke-width="3.3" stroke-linecap="round"/>
<line x1="372.10" y1="194.40" x2="432.20" y2="704.90" stroke="#000" stroke-width="3.3" stroke-linecap="round"/>
<line x1="372.10" y1="194.40" x2="519.00" y2="574.60" stroke="#000" stroke-width="3.3" stroke-linecap="round"/>
<line x1="105.80" y1="491.20" x2="432.20" y2="704.90" stroke="#000" stroke-width="3.3" stroke-linecap="round"/>
<line x1="432.20" y1="704.90" x2="519.00" y2="574.60" stroke="#000" stroke-width="3.3" stroke-linecap="round"/>
<line x1="105.80" y1="493.00" x2="519.30" y2="576.60" stroke="#000" stroke-width="3.3" stroke-dasharray="10.5 4.2" stroke-dashoffset="2.5"/>
<circle cx="105.8" cy="491.2" r="11.1" fill="#0000ff"/>
<circle cx="432.2" cy="704.9" r="11.1" fill="#ff0000"/>
<circle cx="519.0" cy="574.6" r="11.1" fill="#00ff00"/>
<circle cx="372.1" cy="194.4" r="11.1" fill="#ff00ff"/>
<text transform="translate(38.10 32.40)" x="0.00" y="0" font-size="43.69" font-weight="bold" fill="#000" stroke="#000" stroke-width="1.29" textLength="650.43" lengthAdjust="spacingAndGlyphs" >Pareto Optimal Front in 3D</text>
<text transform="translate(88.50 434.40)" x="-34.06" y="0" font-size="27.90" font-weight="normal" fill="#262626" stroke="#262626" stroke-width="0.49" textLength="33.56" lengthAdjust="spacingAndGlyphs" >50</text>
<text transform="translate(88.50 379.00)" x="-50.36" y="0" font-size="27.90" font-weight="normal" fill="#262626" stroke="#262626" stroke-width="0.49" textLength="50.07" lengthAdjust="spacingAndGlyphs" >100</text>
<text transform="translate(88.50 323.60)" x="-50.28" y="0" font-size="27.90" font-weight="normal" fill="#262626" stroke="#262626" stroke-width="0.49" textLength="49.67" lengthAdjust="spacingAndGlyphs" >150</text>
<text transform="translate(88.50 268.20)" x="-50.98" y="0" font-size="27.90" font-weight="normal" fill="#262626" stroke="#262626" stroke-width="0.49" textLength="50.93" lengthAdjust="spacingAndGlyphs" >200</text>
<text transform="translate(88.50 212.80)" x="-50.96" y="0" font-size="27.90" font-weight="normal" fill="#262626" stroke="#262626" stroke-width="0.49" textLength="50.59" lengthAdjust="spacingAndGlyphs" >250</text>
<text transform="translate(88.50 157.40)" x="-50.38" y="0" font-size="27.90" font-weight="normal" fill="#262626" stroke="#262626" stroke-width="0.49" textLength="49.92" lengthAdjust="spacingAndGlyphs" >300</text>
<text transform="translate(88.50 102.00)" x="-49.89" y="0" font-size="27.90" font-weight="normal" fill="#262626" stroke="#262626" stroke-width="0.49" textLength="49.19" lengthAdjust="spacingAndGlyphs" >350</text>
<text transform="translate(132.70 556.00)" x="-24.90" y="0" font-size="27.90" font-weight="normal" fill="#262626" stroke="#262626" stroke-width="0.49" textLength="49.22" lengthAdjust="spacingAndGlyphs" >500</text>
<text transform="translate(221.90 631.60)" x="-8.63" y="0" font-size="27.90" font-weight="normal" fill="#262626" stroke="#262626" stroke-width="0.49" textLength="17.26" lengthAdjust="spacingAndGlyphs" >0</text>
<text transform="translate(311.40 708.40)" x="-30.35" y="0" font-size="27.90" font-weight="normal" fill="#262626" stroke="#262626" stroke-width="0.49" textLength="60.36" lengthAdjust="spacingAndGlyphs" >-500</text>
<text transform="translate(429.10 744.70)" x="-7.95" y="0" font-size="27.90" font-weight="normal" fill="#262626" stroke="#262626" stroke-width="0.49" textLength="15.66" lengthAdjust="spacingAndGlyphs" >0</text>
<text transform="translate(541.60 742.20)" x="-25.54" y="0" font-size="27.90" font-weight="normal" fill="#262626" stroke="#262626" stroke-width="0.49" textLength="49.86" lengthAdjust="spacingAndGlyphs" >100</text>
<text transform="translate(652.80 739.70)" x="-25.26" y="0" font-size="27.90" font-weight="normal" fill="#262626" stroke="#262626" stroke-width="0.49" textLength="50.40" lengthAdjust="spacingAndGlyphs" >200</text>
<text transform="translate(461.00 773.50)" x="1.17" y="0" font-size="32.92" font-weight="bold" fill="#262626" stroke="#262626" stroke-width="0.97" textLength="170.76" lengthAdjust="spacingAndGlyphs" >Solubility</text>
<text transform="translate(23.70 336.40) rotate(-90)" x="0.00" y="0" font-size="33.02" font-weight="bold" fill="#262626" stroke="#262626" stroke-width="0.97" textLength="91.12" lengthAdjust="spacingAndGlyphs" >Yield</text>
<text transform="translate(174.50 656.20) rotate(38.6)" x="-137.98" y="0" font-size="32.51" font-weight="bold" fill="#262626" stroke="#262626" stroke-width="0.96" textLength="275.97" lengthAdjust="spacingAndGlyphs" >Hydrophobicity</text>
<text transform="translate(49.10 499.00)" x="-0.03" y="0" font-size="26.92" font-weight="bold" fill="#000" stroke="#000" stroke-width="0.79" textLength="37.14" lengthAdjust="spacingAndGlyphs" >V1</text>
<text transform="translate(444.50 733.00)" x="0.04" y="0" font-size="26.92" font-weight="bold" fill="#000" stroke="#000" stroke-width="0.79" textLength="37.15" lengthAdjust="spacingAndGlyphs" >V2</text>
<text transform="translate(539.10 585.80)" x="-0.00" y="0" font-size="26.92" font-weight="bold" fill="#000" stroke="#000" stroke-width="0.79" textLength="37.18" lengthAdjust="spacingAndGlyphs" >V3</text>
<text transform="translate(353.40 177.00)" x="-0.06" y="0" font-size="26.92" font-weight="bold" fill="#000" stroke="#000" stroke-width="0.79" textLength="37.09" lengthAdjust="spacingAndGlyphs" >V4</text>
</svg>
</body></html>
